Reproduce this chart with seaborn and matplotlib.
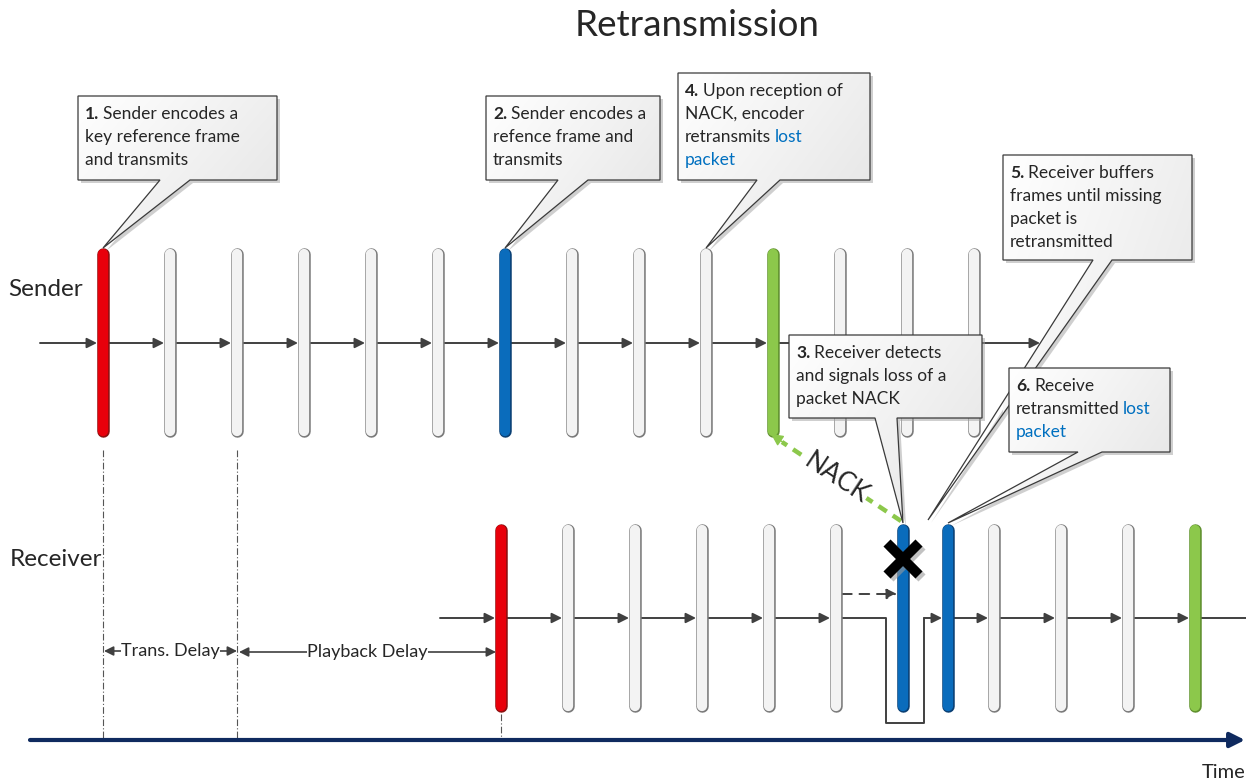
import numpy as np
import seaborn as sns
import matplotlib
matplotlib.use("Agg")
import matplotlib.pyplot as plt
from matplotlib.patches import Polygon
from matplotlib.colors import LinearSegmentedColormap

# frame times (x, in diagram units) and their type
sender_t = [103, 170, 237, 304, 371, 438, 505, 572, 639, 706, 773, 840, 907, 974]
sender_kind = ["key", "p", "p", "p", "p", "p", "ref", "p", "p", "p", "retx", "p", "p", "p"]
receiver_t = [501, 568, 635, 702, 769, 836, 903, 948, 994, 1061, 1128, 1195]
receiver_kind = ["key", "p", "p", "p", "p", "p", "lost", "ref", "p", "p", "p", "retx"]

row_labels = ["Sender", "Receiver"]
delay_labels = ["Trans. Delay", "Playback Delay"]

# callout texts, [..] = blue
notes = [
    ["1. Sender encodes a", "key reference frame", "and transmits"],
    ["2. Sender encodes a", "refence frame and", "transmits"],
    ["4. Upon reception of", "NACK, encoder", "retransmits [lost]", "[packet]"],
    ["5. Receiver buffers", "frames until missing", "packet is", "retransmitted"],
    ["3. Receiver detects", "and signals loss of a", "packet NACK"],
    ["6. Receive", "retransmitted [lost]", "[packet]"],
]
# box (left, top, right, bottom), wedge base x's, wedge tip
note_box = [(78, 96, 277, 180), (486, 96, 660, 180), (678, 73, 870, 180),
            (1003, 155, 1192, 260), (789, 335, 982, 418), (1009, 368, 1170, 452)]
note_base = [(160, 190), (558, 588), (757, 780), (1093, 1112), (875, 897), (1078, 1102)]
note_tip = [(103, 248), (505, 248), (706, 248), (928, 520), (903, 523), (948, 523)]

colors = {"key": ("#e8000b", "#8c1010"), "ref": ("#0a6cbc", "#0a3f73"),
          "lost": ("#0a6cbc", "#0a3f73"), "retx": ("#8cc84b", "#5f8f2e"),
          "p": ("#f3f3f3", "#7a7a7a")}
blue_txt = "#0070c0"
dark = "#404040"

sns.set_theme(style="white")
plt.rcParams["font.family"] = ["Lato", "DejaVu Sans"]

fig = plt.figure(figsize=(12.46, 7.8), dpi=100)
ax = fig.add_axes([0, 0, 1, 1])

PX = 0.72  # points per pixel
FS = 12.5


def frame(x, y0, y1, kind):
    fc, ec = colors[kind]
    ax.plot([x, x], [y0 + 6, y1 - 6], color=ec, lw=12.5 * PX, solid_capstyle="round", zorder=3)
    ax.plot([x, x], [y0 + 6, y1 - 6], color=fc, lw=10.3 * PX, solid_capstyle="round", zorder=3)


def arrow(x0, x1, y, ls="-", lw=1.4, color=dark):
    ax.annotate("", xy=(x1, y), xytext=(x0, y),
                arrowprops=dict(arrowstyle="-|>", color=color, lw=lw, ls=ls,
                                mutation_scale=15, shrinkA=0, shrinkB=0), zorder=2)


def after(prev, s, zz, gap=0.0, **kw):
    return ax.annotate(s, xy=(1, 0), xycoords=prev, xytext=(gap, 0), textcoords="offset points",
                       ha="left", va="bottom", fontsize=FS, zorder=zz, **kw)


# sender row
ys0, ys1, ys = 248, 437, 343
arrow(40, sender_t[0] - 6, ys)
for i, (x, k) in enumerate(zip(sender_t, sender_kind)):
    frame(x, ys0, ys1, k)
    nxt = sender_t[i + 1] - 6 if i + 1 < len(sender_t) else 1040
    arrow(x + 6, nxt, ys)

# receiver row
yr0, yr1, yr = 524, 712, 618
lost = receiver_kind.index("lost")
arrow(440, receiver_t[0] - 6, yr)
for i, (x, k) in enumerate(zip(receiver_t, receiver_kind)):
    frame(x, yr0, yr1, k)
    if i == lost - 1:
        xl = receiver_t[lost]
        ax.plot([x + 6, xl - 17, xl - 17, xl + 21, xl + 21], [yr, yr, 723, 723, yr],
                color=dark, lw=1.4, zorder=2)
        arrow(xl + 21, receiver_t[lost + 1] - 6, yr)
        arrow(x + 6, xl - 6, 594, ls=(0, (5, 4)))
    elif i == lost:
        continue
    elif i + 1 < len(receiver_t):
        arrow(x + 6, receiver_t[i + 1] - 6, yr)
    else:
        ax.plot([x + 6, 1246], [yr, yr], color=dark, lw=1.4, zorder=2)

# lost mark
xl = receiver_t[lost]
for dx, c, a in [(3, "#9a9a9a", 0.6), (0, "black", 1)]:
    ax.plot([xl - 16 + dx, xl + 16 + dx], [543 + dx, 575 + dx], color=c, alpha=a, lw=10 * PX,
            solid_capstyle="butt", zorder=4)
    ax.plot([xl - 16 + dx, xl + 16 + dx], [575 + dx, 543 + dx], color=c, alpha=a, lw=10 * PX,
            solid_capstyle="butt", zorder=4)

# NACK
green = colors["retx"][0]
ax.plot([xl - 2, 782], [521, 442], color=green, lw=4.5 * PX, dashes=(2.2, 1.6), zorder=4)
ax.annotate("", xy=(771, 434), xytext=(784, 443),
            arrowprops=dict(arrowstyle="-|>", color=green, lw=1, mutation_scale=18,
                            shrinkA=0, shrinkB=0), zorder=4)
ax.text(836, 478, "NACK", rotation=-33.5, ha="center", va="center", fontsize=18.5, zorder=5,
        bbox=dict(fc="white", ec="none", pad=0.5))

# dash-dot guides
for x, y0 in [(sender_t[0], 450), (sender_t[2], 450), (receiver_t[0], 714)]:
    ax.plot([x, x], [y0, 740], color="#555555", lw=0.8, ls=(0, (6, 2, 1, 2)), zorder=1)

# delays
for (x0, x1, y), lab in zip([(sender_t[0] + 1, sender_t[2], 651), (sender_t[2] + 2, receiver_t[0] - 5, 652)],
                            delay_labels):
    ax.annotate("", xy=(x1, y), xytext=(x0, y),
                arrowprops=dict(arrowstyle="<|-|>", color=dark, lw=1.2, mutation_scale=14,
                                shrinkA=0, shrinkB=0), zorder=2)
    ax.text((x0 + x1) / 2, y, lab, ha="center", va="center", fontsize=13, zorder=3,
            bbox=dict(fc="white", ec="none", pad=0.3))

# time axis
ax.annotate("", xy=(1245, 740), xytext=(30, 740),
            arrowprops=dict(arrowstyle="-|>", color="#0f2a5f", lw=3, mutation_scale=22,
                            shrinkA=0, shrinkB=0), zorder=2)
ax.text(1246, 772, "Time", ha="right", va="center", fontsize=14.5)

# row labels and title
ax.text(8, 290, row_labels[0], ha="left", va="center", fontsize=17.5)
ax.text(10, 560, row_labels[1], ha="left", va="center", fontsize=17.5)
ax.text(697, 26, "Retransmission", ha="center", va="center", fontsize=26.5)

# callouts
cmap = LinearSegmentedColormap.from_list("g", ["#ffffff", "#e4e4e4"])
g = np.linspace(0, 1, 64)
grad = (g[None, :] * 0.6 + g[:, None] * 0.4)
for z, (lines, (l, t, r, b), (b0, b1), tip) in enumerate(zip(notes, note_box, note_base, note_tip)):
    zz = 6 + z * 0.1
    pts = [(l, t), (r, t), (r, b), (b1, b), tip, (b0, b), (l, b)]
    ax.add_patch(Polygon([(x + 3, y + 3) for x, y in pts], closed=True, fc="#a0a0a0",
                         ec="none", alpha=0.5, zorder=zz))
    poly = Polygon(pts, closed=True, fc="none", ec="#3a3a3a", lw=0.9, zorder=zz + 0.02)
    ax.add_patch(poly)
    im = ax.imshow(grad, cmap=cmap, extent=(l, r, max(b, tip[1]), t), aspect="auto",
                   interpolation="bicubic", zorder=zz + 0.01)
    im.set_clip_path(poly)
    tz = zz + 0.05
    for j, line in enumerate(lines):
        y = t + 18 + 23 * j
        blue = None
        if "[" in line:
            line, blue = line.split("[")
            blue = blue.rstrip("]")
        if j == 0:
            num, rest = line.split(" ", 1)
            t0 = ax.text(l + 7, y, num, ha="left", va="center", fontsize=FS, weight="bold", zorder=tz)
            t0 = after(t0, rest, tz, gap=3)
        elif line:
            t0 = ax.text(l + 7, y, line.rstrip(), ha="left", va="center", fontsize=FS, zorder=tz)
        else:
            t0 = None
        if blue:
            if t0 is None:
                ax.text(l + 7, y, blue, ha="left", va="center", fontsize=FS, color=blue_txt, zorder=tz)
            else:
                after(t0, blue, tz, gap=2.5, color=blue_txt)

ax.set_xlim(0, 1246)
ax.set_ylim(780, 0)
ax.axis("off")
fig.savefig("out.png", dpi=100, facecolor="white")
